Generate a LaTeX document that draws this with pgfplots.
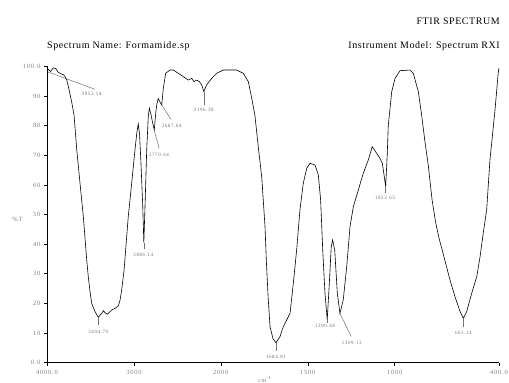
\documentclass[border=0pt]{standalone}
\usepackage{fontspec}
\setmainfont{Liberation Serif}
\newfontfamily\tickfont[LetterSpace=12]{Liberation Serif}
\newfontfamily\titlefont[LetterSpace=6]{Liberation Serif}
\usepackage{pgfplots}
\pgfplotsset{compat=1.18}
\definecolor{tickgray}{HTML}{808080}
\definecolor{annogray}{HTML}{707070}
\begin{document}
\begin{tikzpicture}
\useasboundingbox (-47bp,-20.5bp) rectangle (462bp,362.5bp);
\begin{axis}[
  at={(0,0)}, anchor=south west,
  scale only axis, width=452bp, height=296bp,
  x coord trafo/.code={\pgfmathparse{4000-#1+max(0,2000-#1)}},
  xmin=4000, xmax=400, ymin=0, ymax=100,
  axis x line=bottom, axis y line=left,
  axis line style={-, black, line width=0.6pt},
  x axis line style={line width=1.2pt},
  xtick={4000,3000,2000,1500,1000,400},
  xticklabels={4000.0,3000,2000,1500,1000,400.0},
  ytick={0,10,20,30,40,50,60,70,80,90,100},
  yticklabels={0.0,10,20,30,40,50,60,70,80,90,100.0},
  tick align=outside, major tick length=3bp,
  tick style={black, line width=0.5pt},
  ticklabel style={font=\tickfont\fontsize{6.5}{7}\selectfont, text=tickgray},
  xticklabel style={yshift=-1bp},
  clip=false,
]
\addplot[black, line width=0.6pt] coordinates {
(4000,99.0) (3992,99.2) (3960,98.3) (3930,99.5) (3900,99.3) (3870,98.0)
(3840,97.6) (3810,97.2) (3790,96.5) (3773,95.5) (3745,92) (3716,88)
(3689,83.6) (3658,72) (3620,60.5) (3582,49.3) (3543,34.6) (3525,29)
(3505,24) (3486,20) (3448,17.2) (3410,15.3) (3371,16.6) (3350,17.5)
(3333,16.8) (3306,16.3) (3280,17.0) (3256,17.7) (3218,18.3) (3180,19.1)
(3160,21) (3141,24.5) (3114,31) (3090,40) (3065,49.3) (3026,60.5)
(2988,71.8) (2965,78) (2950,80.6) (2935,77) (2920,68) (2900,54)
(2886,40.5) (2870,55) (2853,71.8) (2835,83) (2823,85.9) (2805,84)
(2785,81) (2766,78.5) (2750,84) (2738,87) (2720,89.2) (2700,88)
(2680,87) (2662,92.6) (2635,97.7) (2585,98.8) (2547,98.8) (2490,97.7)
(2432,96.6) (2374,95.4) (2335,96) (2309,94.9) (2278,95.4) (2248,94.9)
(2220,93.8) (2196,91.5) (2163,93.8) (2105,96) (2048,97.7) (1986,98.8)
(1909,98.8) (1871,97.7) (1842,94.9) (1822,89.2) (1804,83.5) (1785,73)
(1765,62.8) (1746,46) (1738,34) (1728,22) (1717,12.1) (1700,8)
(1683,6.7) (1660,8.7) (1641,12.1) (1621,14.4) (1602,16.6) (1583,26.8)
(1564,38) (1545,51.5) (1526,60.5) (1506,65.6) (1487,67.3) (1458,66.7)
(1439,63.3) (1426,54.9) (1414,38) (1401,23.4) (1388,14.4) (1376,26.8)
(1365,39.1) (1357,41.4) (1345,38) (1330,23.4) (1315,16.6) (1296,21.1)
(1276,32.4) (1257,45.9) (1238,52.6) (1209,58.3) (1181,63.9) (1152,68.4)
(1129,72.9) (1104,70.7) (1085,69) (1071,67.3) (1060,62.8) (1052,59.4)
(1043,70) (1037,80) (1017,91.5) (998,96) (969,98.6) (912,98.8)
(893,97.7) (864,91.5) (845,83.6) (826,74.6) (807,66.7) (785,55)
(765,47.5) (745,42) (720,36.5) (682,27.9) (653,22.2) (624,17.2) (605,14.9)
(586,17.2) (557,23.4) (528,29) (509,35.7) (490,44) (471,51.5)
(452,68.4) (423,85.3) (404,98.2) (400,99.5)
};
% peak annotations
\begin{scope}[every node/.style={font=\tickfont\fontsize{5}{6}\selectfont, text=annogray, inner sep=0.5pt}]
\draw[annogray, line width=0.5pt] (axis cs:3992,98.2) -- (axis cs:3448,92.3);
\node at (axis cs:3486,90.6) {3952.14};
\draw[annogray, line width=0.5pt] (axis cs:3410,15.3) -- (axis cs:3410,12.5);
\node at (axis cs:3410,10.4) {3404.79};
\draw[annogray, line width=0.5pt] (axis cs:2886,40.5) -- (axis cs:2886,38.3);
\node at (axis cs:2892,36.4) {2886.14};
\draw[annogray, line width=0.5pt] (axis cs:2766,78.5) -- (axis cs:2710,72.3);
\node at (axis cs:2712,70.3) {2770.64};
\draw[annogray, line width=0.5pt] (axis cs:2680,87) -- (axis cs:2575,82.2);
\node at (axis cs:2566,80.1) {2687.64};
\draw[annogray, line width=0.5pt] (axis cs:2196,91.5) -- (axis cs:2196,87);
\node at (axis cs:2196,85.2) {2196.38};
\draw[annogray, line width=0.5pt] (axis cs:1683,6.7) -- (axis cs:1683,4);
\node at (axis cs:1683,2) {1684.81};
\draw[annogray, line width=0.5pt] (axis cs:1388,14.4) -- (axis cs:1388,13.5);
\node at (axis cs:1401,12.5) {1390.44};
\draw[annogray, line width=0.5pt] (axis cs:1315,16.6) -- (axis cs:1250,8.8);
\node at (axis cs:1247,6.7) {1309.13};
\draw[annogray, line width=0.5pt] (axis cs:1052,59.4) -- (axis cs:1052,57.3);
\node at (axis cs:1056,55.6) {1053.63};
\draw[annogray, line width=0.5pt] (axis cs:605,14.9) -- (axis cs:605,11.9);
\node at (axis cs:605,10) {603.14};
\end{scope}
\end{axis}
\node[anchor=east, font=\titlefont\fontsize{10}{12}\selectfont, inner sep=0pt] at (453bp,340.8bp) {FTIR SPECTRUM};
\node[anchor=west, font=\titlefont\fontsize{10}{12}\selectfont, inner sep=0pt] at (0bp,316.8bp) {Spectrum Name: Formamide.sp};
\node[anchor=east, font=\titlefont\fontsize{10}{12}\selectfont, inner sep=0pt] at (453bp,316.8bp) {Instrument Model: Spectrum RXI};
\node[font=\tickfont\fontsize{6.5}{7}\selectfont, text=tickgray, inner sep=0pt] at (-29.5bp,143.5bp) {\%T};
\node[anchor=south, font=\tickfont\fontsize{6}{7}\selectfont, text=tickgray, inner sep=0pt] at (218bp,-19.8bp) {cm\textsuperscript{-1}};
\end{tikzpicture}
\end{document}
